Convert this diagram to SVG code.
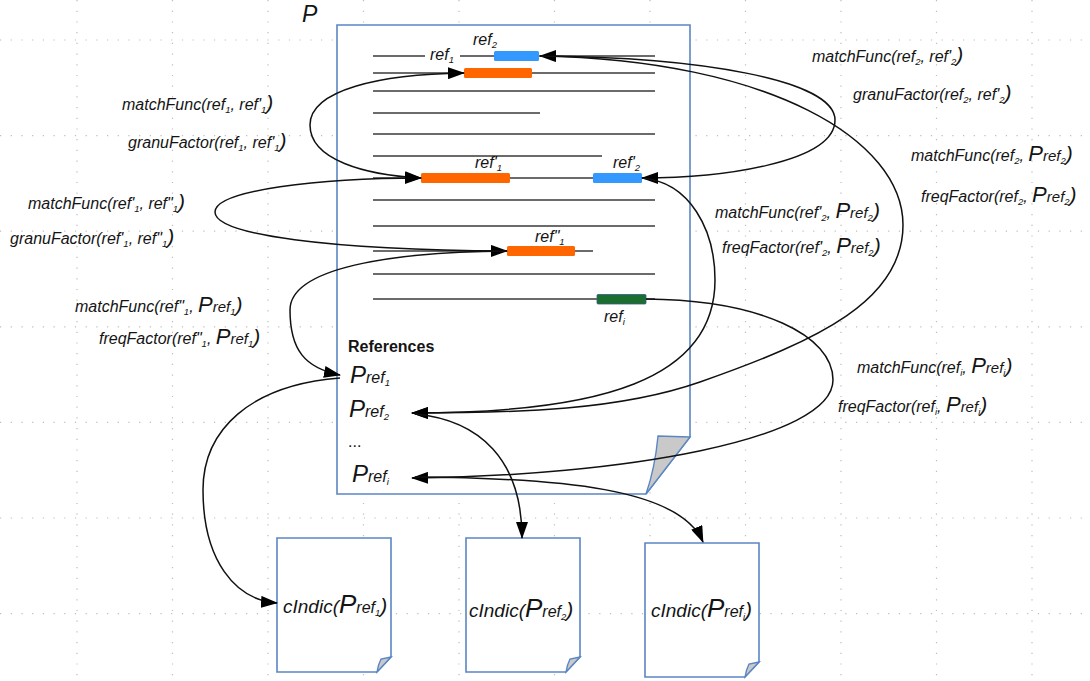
<svg xmlns="http://www.w3.org/2000/svg" width="1090" height="681" viewBox="0 0 1090 681">
<defs>
<marker id="ah" markerUnits="userSpaceOnUse" markerWidth="17" markerHeight="12" refX="16" refY="6" orient="auto-start-reverse" viewBox="0 0 17 12">
<path d="M0,0 L17,6 L0,12 Z" fill="#000"/>
</marker>
</defs>
<style>
.grid line{stroke:#bdbdbd;stroke-width:1.2;stroke-dasharray:1.2 9.5}
.doc{fill:#fff;stroke:#5b86c4;stroke-width:1.6}
.flap{fill:#c9c9c9;stroke:#5b86c4;stroke-width:1.4}
.tl{stroke:#3a3a3a;stroke-width:1.6}
.c{fill:none;stroke:#111;stroke-width:1.5}
.t{font-family:"Liberation Sans",Arial,sans-serif;font-style:italic;fill:#141414;font-size:16px}
.s{font-size:9.5px}
.p{font-size:21px}
.P{font-size:22px}
.r{font-size:15px}
.b{font-family:"Liberation Sans",Arial,sans-serif;font-weight:bold;fill:#141414;font-size:16px}
</style>
<rect width="1090" height="681" fill="#fff"/>
<g class="grid">
<line x1="77" y1="0" x2="77" y2="681"/><line x1="172.5" y1="0" x2="172.5" y2="681"/><line x1="268" y1="0" x2="268" y2="681"/><line x1="363.5" y1="0" x2="363.5" y2="681"/><line x1="459" y1="0" x2="459" y2="681"/><line x1="554.5" y1="0" x2="554.5" y2="681"/><line x1="650" y1="0" x2="650" y2="681"/><line x1="745.5" y1="0" x2="745.5" y2="681"/><line x1="841" y1="0" x2="841" y2="681"/><line x1="936.5" y1="0" x2="936.5" y2="681"/><line x1="1032" y1="0" x2="1032" y2="681"/>
<line x1="0" y1="40" x2="1090" y2="40"/><line x1="0" y1="135.6" x2="1090" y2="135.6"/><line x1="0" y1="231.2" x2="1090" y2="231.2"/><line x1="0" y1="326.8" x2="1090" y2="326.8"/><line x1="0" y1="422.4" x2="1090" y2="422.4"/><line x1="0" y1="518" x2="1090" y2="518"/><line x1="0" y1="613.6" x2="1090" y2="613.6"/>
</g>

<g id="docP">
<path class="doc" d="M337,25 H690 V437 L646,494 H337 Z"/>
<path class="flap" d="M690,437 L658,436 Q655,468 646,494 Z"/>
<text class="t" x="302" y="22" style="font-size:23px">P</text>
<g id="textlines">
<line class="tl" x1="373" y1="56" x2="425" y2="56"/><line class="tl" x1="460" y1="56" x2="655" y2="56"/>
<line class="tl" x1="373" y1="73" x2="655" y2="73"/>
<line class="tl" x1="373" y1="91" x2="655" y2="91"/>
<line class="tl" x1="373" y1="113" x2="540" y2="113"/>
<line class="tl" x1="373" y1="134" x2="655" y2="134"/>
<line class="tl" x1="373" y1="156" x2="602" y2="156"/>
<line class="tl" x1="373" y1="178" x2="655" y2="178"/>
<line class="tl" x1="373" y1="200" x2="655" y2="200"/>
<line class="tl" x1="373" y1="226" x2="655" y2="226"/>
<line class="tl" x1="373" y1="251" x2="593" y2="251"/>
<line class="tl" x1="373" y1="274" x2="655" y2="274"/>
<line class="tl" x1="373" y1="299" x2="655" y2="299"/>
</g>
<rect x="494" y="51" width="45" height="10" rx="1.5" fill="#3399ff"/>
<rect x="464" y="68" width="68" height="10" rx="1.5" fill="#ff6600"/>
<rect x="421" y="173" width="89" height="10" rx="1.5" fill="#ff6600"/>
<rect x="593" y="173" width="49" height="10" rx="1.5" fill="#3399ff"/>
<rect x="507" y="246" width="68" height="10" rx="1.5" fill="#ff6600"/>
<rect x="597" y="294.5" width="49" height="9.5" rx="1" fill="#1a6e2e" stroke="#355a8a" stroke-width="0.8"/>
<text class="t" x="430" y="60">ref<tspan class="s" dy="3">1</tspan></text>
<text class="t" x="473" y="45">ref<tspan class="s" dy="3">2</tspan></text>
<text class="t" x="475" y="168">ref'<tspan class="s" dy="3">1</tspan></text>
<text class="t" x="613" y="168">ref'<tspan class="s" dy="3">2</tspan></text>
<text class="t" x="535" y="242">ref"<tspan class="s" dy="3">1</tspan></text>
<text class="t" x="604" y="322">ref<tspan class="s" dy="3">i</tspan></text>
<text class="b" x="348" y="352">References</text>
<text class="t" x="350" y="383"><tspan style="font-size:24px">P</tspan><tspan style="font-size:16px">ref</tspan><tspan class="s" dy="3">1</tspan></text>
<text class="t" x="349" y="417"><tspan style="font-size:24px">P</tspan><tspan style="font-size:16px">ref</tspan><tspan class="s" dy="3">2</tspan></text>
<text class="t" x="348" y="447" style="font-style:normal">...</text>
<text class="t" x="352" y="482"><tspan style="font-size:24px">P</tspan><tspan style="font-size:16px">ref</tspan><tspan class="s" dy="3">i</tspan></text>
</g>

<g id="cindic1">
<path class="doc" d="M277,538 H391 V657 L377,672 H277 Z"/>
<path class="flap" d="M391,657 L381,659 Q378,665 377,672 Z"/>
<text class="t" x="283" y="613" style="font-size:19px">cIndic(<tspan style="font-size:26px">P</tspan><tspan style="font-size:16px">ref</tspan><tspan class="s" dy="3">1</tspan><tspan class="p" dy="-3">)</tspan></text>
</g>
<g id="cindic2">
<path class="doc" d="M466,538 H580 V657 L566,672 H466 Z"/>
<path class="flap" d="M580,657 L570,659 Q567,665 566,672 Z"/>
<text class="t" x="469" y="617" style="font-size:19px">cIndic(<tspan style="font-size:26px">P</tspan><tspan style="font-size:16px">ref</tspan><tspan class="s" dy="3">2</tspan><tspan class="p" dy="-3">)</tspan></text>
</g>
<g id="cindic3">
<path class="doc" d="M645,543 H759 V662 L745,677 H645 Z"/>
<path class="flap" d="M759,662 L749,664 Q746,670 745,677 Z"/>
<text class="t" x="651" y="617" style="font-size:19px">cIndic(<tspan style="font-size:26px">P</tspan><tspan style="font-size:16px">ref</tspan><tspan class="s" dy="3">i</tspan><tspan class="p" dy="-3">)</tspan></text>
</g>

<g id="connectors">
<path class="c" d="M464,73 C380,74 310,90 310,125 C310,160 365,175 421,178" marker-start="url(#ah)" marker-end="url(#ah)"/>
<path class="c" d="M421,178 C320,178 215,190 215,212 C215,235 330,250 507,251" marker-start="url(#ah)" marker-end="url(#ah)"/>
<path class="c" d="M507,251 C390,252 290,268 290,310 C290,350 305,368 340,375" marker-end="url(#ah)"/>
<path class="c" d="M340,378 C250,385 203,430 203,490 C203,560 235,600 277,603" marker-end="url(#ah)"/>
<path class="c" d="M540,56 C700,57 835,80 835,120 C835,163 720,178 642,178" marker-start="url(#ah)" marker-end="url(#ah)"/>
<path class="c" d="M540,56 C770,60 903,140 903,225 C903,300 820,340 700,382 C620,410 520,413 412,413" marker-end="url(#ah)"/>
<path class="c" d="M642,178 C690,182 715,230 715,280 C715,380 600,413 412,413" marker-end="url(#ah)"/>
<path class="c" d="M415,414 C480,420 522,460 522,538" marker-end="url(#ah)"/>
<path class="c" d="M646,299 C760,300 833,335 833,380 C833,440 620,476 412,478" marker-end="url(#ah)"/>
<path class="c" d="M415,477 C560,478 680,488 703,542" marker-end="url(#ah)"/>
</g>

<g id="labels">
<text class="t" x="122" y="110">matchFunc(ref<tspan class="s" dy="3">1</tspan><tspan dy="-3">, ref'</tspan><tspan class="s" dy="3">1</tspan><tspan class="p" dy="-3">)</tspan></text>
<text class="t" x="128" y="148">granuFactor(ref<tspan class="s" dy="3">1</tspan><tspan dy="-3">, ref'</tspan><tspan class="s" dy="3">1</tspan><tspan class="p" dy="-3">)</tspan></text>
<text class="t" x="28" y="209">matchFunc(ref'<tspan class="s" dy="3">1</tspan><tspan dy="-3">, ref"</tspan><tspan class="s" dy="3">1</tspan><tspan class="p" dy="-3">)</tspan></text>
<text class="t" x="10" y="244">granuFactor(ref'<tspan class="s" dy="3">1</tspan><tspan dy="-3">, ref"</tspan><tspan class="s" dy="3">1</tspan><tspan class="p" dy="-3">)</tspan></text>
<text class="t" x="75" y="312">matchFunc(ref"<tspan class="s" dy="3">1</tspan><tspan dy="-3">, </tspan><tspan class="P">P</tspan><tspan class="r">ref</tspan><tspan class="s" dy="3">1</tspan><tspan class="p" dy="-3">)</tspan></text>
<text class="t" x="99" y="344">freqFactor(ref"<tspan class="s" dy="3">1</tspan><tspan dy="-3">, </tspan><tspan class="P">P</tspan><tspan class="r">ref</tspan><tspan class="s" dy="3">1</tspan><tspan class="p" dy="-3">)</tspan></text>
<text class="t" x="812" y="62">matchFunc(ref<tspan class="s" dy="3">2</tspan><tspan dy="-3">, ref'</tspan><tspan class="s" dy="3">2</tspan><tspan class="p" dy="-3">)</tspan></text>
<text class="t" x="853" y="100">granuFactor(ref<tspan class="s" dy="3">2</tspan><tspan dy="-3">, ref'</tspan><tspan class="s" dy="3">2</tspan><tspan class="p" dy="-3">)</tspan></text>
<text class="t" x="911" y="161">matchFunc(ref<tspan class="s" dy="3">2</tspan><tspan dy="-3">, </tspan><tspan class="P">P</tspan><tspan class="r">ref</tspan><tspan class="s" dy="3">2</tspan><tspan class="p" dy="-3">)</tspan></text>
<text class="t" x="921" y="202">freqFactor(ref<tspan class="s" dy="3">2</tspan><tspan dy="-3">, </tspan><tspan class="P">P</tspan><tspan class="r">ref</tspan><tspan class="s" dy="3">2</tspan><tspan class="p" dy="-3">)</tspan></text>
<text class="t" x="715" y="218">matchFunc(ref'<tspan class="s" dy="3">2</tspan><tspan dy="-3">, </tspan><tspan class="P">P</tspan><tspan class="r">ref</tspan><tspan class="s" dy="3">2</tspan><tspan class="p" dy="-3">)</tspan></text>
<text class="t" x="722" y="253">freqFactor(ref'<tspan class="s" dy="3">2</tspan><tspan dy="-3">, </tspan><tspan class="P">P</tspan><tspan class="r">ref</tspan><tspan class="s" dy="3">2</tspan><tspan class="p" dy="-3">)</tspan></text>
<text class="t" x="857" y="373">matchFunc(ref<tspan class="s" dy="3">i</tspan><tspan dy="-3">, </tspan><tspan class="P">P</tspan><tspan class="r">ref</tspan><tspan class="s" dy="3">i</tspan><tspan class="p" dy="-3">)</tspan></text>
<text class="t" x="838" y="412">freqFactor(ref<tspan class="s" dy="3">i</tspan><tspan dy="-3">, </tspan><tspan class="P">P</tspan><tspan class="r">ref</tspan><tspan class="s" dy="3">i</tspan><tspan class="p" dy="-3">)</tspan></text>
</g>
</svg>
